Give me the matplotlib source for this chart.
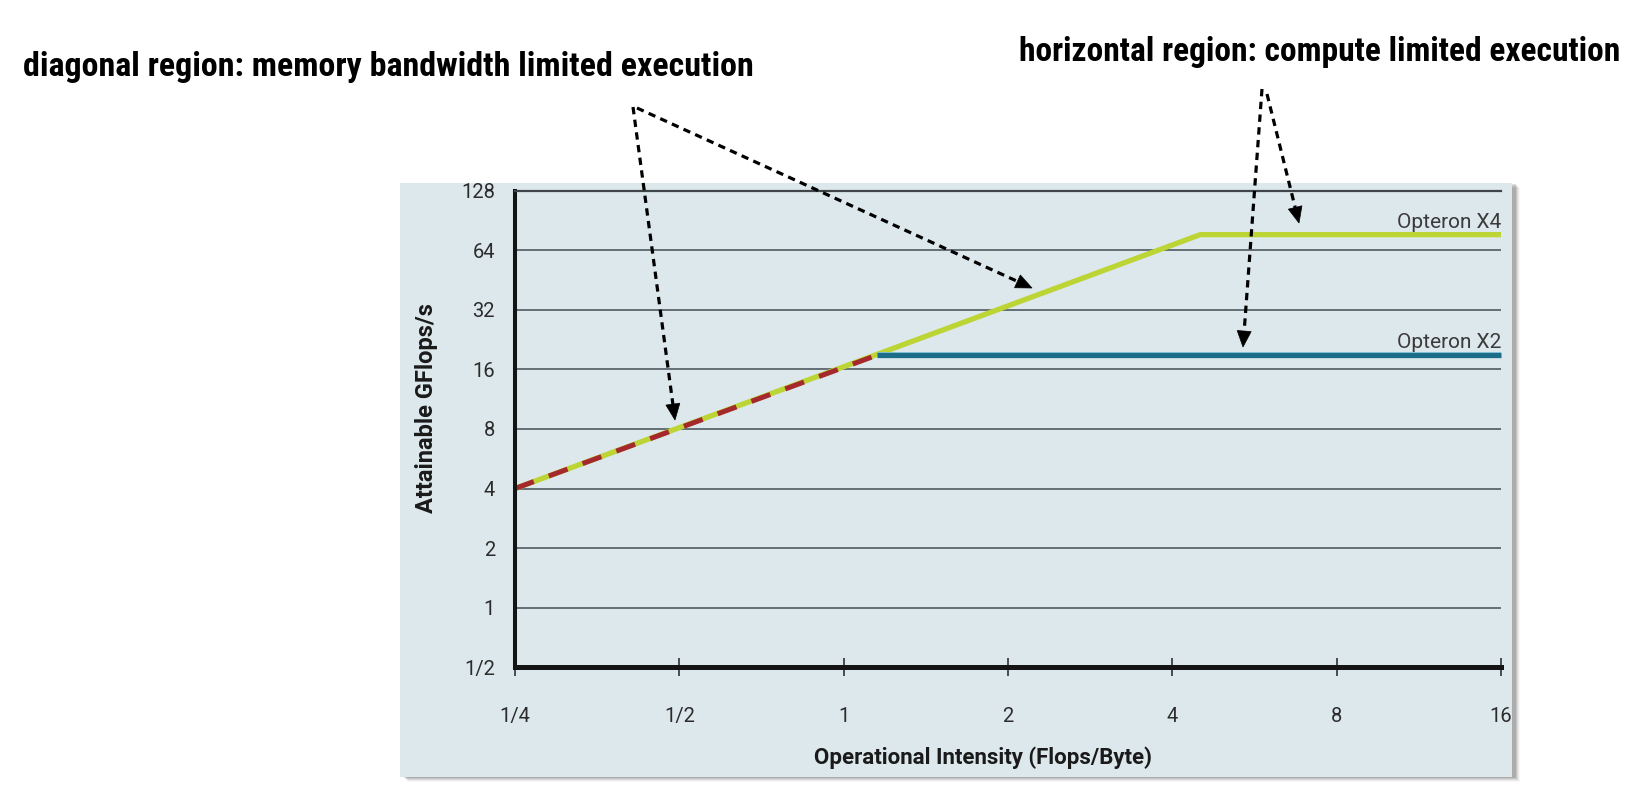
import matplotlib
matplotlib.use("Agg")
import matplotlib.pyplot as plt
from matplotlib import font_manager
from matplotlib.patches import Rectangle, Polygon
from matplotlib.lines import Line2D
import matplotlib.patheffects as pe
import numpy as np

# ---------------- data ----------------
x_ticks = [0.25, 0.5, 1, 2, 4, 8, 16]
x_labels = ["1/4", "1/2", "1", "2", "4", "8", "16"]
y_ticks = [0.5, 1, 2, 4, 8, 16, 32, 64, 128]
y_labels = ["1/2", "1", "2", "4", "8", "16", "32", "64", "128"]

x4_x = [0.25, 4.5, 16]
x4_y = [4, 77, 77]
x2_bw_x = [0.25, 1.15]
x2_bw_y = [4, 18.9]
x2_peak_x = [1.15, 16]
x2_peak_y = [18.9, 18.9]

heading_left = "diagonal region: memory bandwidth limited execution"
heading_right = "horizontal region: compute limited execution"

# ---------------- fonts ----------------
avail = {f.name for f in font_manager.fontManager.ttflist}
head_font = "Roboto"
for cand in ["Roboto Condensed", "Liberation Sans Narrow", "Open Sans Condensed"]:
    if cand in avail:
        head_font = cand
        break
body_font = "Roboto" if "Roboto" in avail else "DejaVu Sans"

W, H = 1650, 810
fig = plt.figure(figsize=(W / 100, H / 100), dpi=100)
fig.patch.set_facecolor("white")

def fx(px):
    return px / W

def fy(py):
    return 1 - py / H

# panel with soft shadow
px0, py0, px1, py1 = 400, 183, 1512, 777
for i, a in enumerate([0.12, 0.09, 0.07, 0.05, 0.03]):
    off = 1 + i
    fig.patches.append(Rectangle((fx(px0 + off + 3), fy(py1 + off)),
                                 fx(px1 - px0), (py1 - py0) / H,
                                 transform=fig.transFigure, facecolor="black",
                                 alpha=a, edgecolor="none", zorder=-3))
fig.patches.append(Rectangle((fx(px0), fy(py1)), fx(px1 - px0), (py1 - py0) / H,
                             transform=fig.transFigure, facecolor="#dde8ec",
                             edgecolor="none", zorder=-2))

# axes
ax_l, ax_r, ax_b, ax_t = 515, 1501, 667, 191
ax = fig.add_axes([fx(ax_l), fy(ax_b), fx(ax_r - ax_l), (ax_b - ax_t) / H])
ax.set_zorder(1)
ax.set_facecolor("none")
ax.set_xscale("log", base=2)
ax.set_yscale("log", base=2)
ax.set_xlim(x_ticks[0], x_ticks[-1])
ax.set_ylim(y_ticks[0], y_ticks[-1])

ax.set_xticks(x_ticks)
ax.set_xticklabels(x_labels)
ax.set_yticks(y_ticks)
ax.set_yticklabels(y_labels)
ax.minorticks_off()

ax.tick_params(axis="x", direction="inout", length=13, width=1.1, color="#222222",
               pad=22, labelsize=14.5, labelcolor="#2c2c2c")
ax.tick_params(axis="y", length=0, pad=14.4, labelsize=14.5, labelcolor="#2c2c2c")
for lab in ax.get_xticklabels() + ax.get_yticklabels():
    lab.set_fontfamily(body_font)

for yv in y_ticks[1:-1]:
    ax.axhline(yv, color="#636e75", lw=1.4, zorder=1)

ax.spines["right"].set_visible(False)
ax.spines["top"].set_color("#3f4548")
ax.spines["top"].set_linewidth(1.6)
ax.spines["left"].set_color("#141414")
ax.spines["left"].set_linewidth(2.9)
ax.spines["bottom"].set_color("#141414")
ax.spines["bottom"].set_linewidth(3.6)
for s in ax.spines.values():
    s.set_zorder(5)

# lines
green = "#bcd434"
teal = "#1c6d8a"
red = "#a5282d"
ax.plot(x4_x, x4_y, color=green, lw=3.8, solid_capstyle="butt",
        solid_joinstyle="miter", zorder=3, clip_on=False)
ax.plot(x2_peak_x, x2_peak_y, color=teal, lw=3.8, solid_capstyle="butt", zorder=3,
        clip_on=False,
        path_effects=[pe.Stroke(offset=(0, 1.9), linewidth=1.3, foreground="#8ccbdc"),
                      pe.Normal()])
ax.plot(x2_bw_x, x2_bw_y, color=red, lw=3.6, dashes=(4.0, 3.2),
        dash_capstyle="butt", zorder=4, clip_on=False)

ax.annotate("Opteron X4", xy=(x4_x[-1], x4_y[-1]), xytext=(0, 5),
            textcoords="offset points", ha="right", va="baseline",
            fontsize=15, color="#3a3a3a", family=body_font)
ax.annotate("Opteron X2", xy=(x2_peak_x[-1], x2_peak_y[-1]), xytext=(0, 5),
            textcoords="offset points", ha="right", va="baseline",
            fontsize=15, color="#3a3a3a", family=body_font)

ax.set_xlabel("Operational Intensity (Flops/Byte)", fontsize=16, fontweight="bold",
              family=body_font, color="#1a1a1a", va="center")
ax.xaxis.set_label_coords((983 - ax_l) / (ax_r - ax_l), (ax_b - 758) / (ax_b - ax_t))
ax.set_ylabel("Attainable GFlops/s", fontsize=17, fontweight="bold",
              family=body_font, color="#1a1a1a", va="center")
ax.yaxis.set_label_coords((426 - ax_l) / (ax_r - ax_l), (ax_b - 408) / (ax_b - ax_t))

# headings fitted to width
renderer = fig.canvas.get_renderer()

def heading(s, x0, x1, baseline):
    t = fig.text(fx(x0), fy(baseline), s, ha="left", va="baseline",
                 fontsize=30, fontweight="bold", family=head_font, color="black")
    w = t.get_window_extent(renderer=renderer).width
    t.set_fontsize(30 * (x1 - x0) / w)
    return t

heading(heading_left, 23, 755, 76)
heading(heading_right, 1019, 1620, 61)

# dashed annotation arrows
def arrow(p0, p1, head_len=16, head_w=14):
    p0 = np.array(p0, float)
    p1 = np.array(p1, float)
    d = p1 - p0
    d /= np.hypot(*d)
    n = np.array([-d[1], d[0]])
    base = p1 - d * head_len
    line_end = p1 - d * (head_len - 2)
    fig.lines.append(Line2D([fx(p0[0]), fx(line_end[0])], [fy(p0[1]), fy(line_end[1])],
                            transform=fig.transFigure, color="black", lw=2.3,
                            dashes=(2.3, 1.7), dash_capstyle="butt", zorder=10))
    tri = [p1, base + n * head_w / 2, base - n * head_w / 2]
    fig.patches.append(Polygon([(fx(x), fy(y)) for x, y in tri], closed=True,
                               transform=fig.transFigure, facecolor="black",
                               edgecolor="black", lw=0.5, zorder=10))

arrow((633, 107), (675, 420))
arrow((637, 108), (1032, 288))
arrow((1262, 89), (1243, 347))
arrow((1267, 94), (1299, 223))

fig.savefig("out.png", dpi=100)
